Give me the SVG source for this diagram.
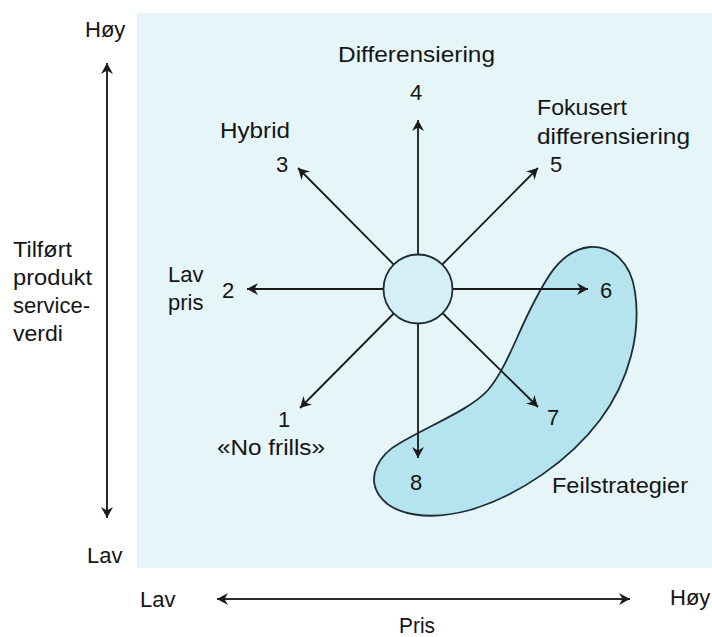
<svg xmlns="http://www.w3.org/2000/svg" width="712" height="637" viewBox="0 0 712 637">
<defs>
<style>
text{font-family:"Liberation Sans","DejaVu Sans",sans-serif;font-size:22px;fill:#151515}
.ln{stroke:#1a1a1a;stroke-width:1.8;fill:none}
.ax{stroke:#2a2a2a;stroke-width:2;fill:none}
</style>
<marker id="ah" viewBox="-12 -7 14 14" markerWidth="14" markerHeight="14" refX="0" refY="0" orient="auto-start-reverse" markerUnits="userSpaceOnUse">
<path d="M0,0 L-11,-6 L-7.5,0 L-11,6 Z" fill="#1a1a1a"/>
</marker>
</defs>
<rect x="0" y="0" width="712" height="637" fill="#ffffff"/>
<rect id="panel" x="137" y="13" width="575" height="555" fill="#e6f5f8"/>

<g id="blob">
<path d="M590,247 C612,246 631,262 635,292 C641,332 630,380 600,420 C570,460 520,495 470,510 C430,521 393,516 379,495 C367,477 378,455 400,443 C430,425 470,410 488,390 C505,370 515,340 530,310 C545,280 560,250 590,247 Z" fill="#b5e3ee" stroke="#1e2d33" stroke-width="1.8"/>
</g>

<g id="connectors">
<line class="ax" x1="107" y1="63" x2="107" y2="518" marker-start="url(#ah)" marker-end="url(#ah)"/>
<line class="ax" x1="217" y1="599" x2="630" y2="599" marker-start="url(#ah)" marker-end="url(#ah)"/>
<line class="ln" x1="418" y1="289" x2="418" y2="120" marker-end="url(#ah)"/>
<line class="ln" x1="418" y1="289" x2="298" y2="168" marker-end="url(#ah)"/>
<line class="ln" x1="418" y1="289" x2="538" y2="168" marker-end="url(#ah)"/>
<line class="ln" x1="418" y1="289" x2="247" y2="289" marker-end="url(#ah)"/>
<line class="ln" x1="418" y1="289" x2="588" y2="289" marker-end="url(#ah)"/>
<line class="ln" x1="418" y1="289" x2="300" y2="408" marker-end="url(#ah)"/>
<line class="ln" x1="418" y1="289" x2="538" y2="407" marker-end="url(#ah)"/>
<line class="ln" x1="418" y1="289" x2="418" y2="458" marker-end="url(#ah)"/>
</g>

<g id="center">
<circle cx="418" cy="289" r="34.5" fill="#d4f0f6" stroke="#1e2d33" stroke-width="1.8"/>
</g>

<g id="axis-y">
<text x="85" y="37">Høy</text>
<text x="87" y="563">Lav</text>
<text x="13" y="257" textLength="59" lengthAdjust="spacingAndGlyphs">Tilført</text>
<text x="13" y="285" textLength="79" lengthAdjust="spacingAndGlyphs">produkt</text>
<text x="13" y="313" textLength="77" lengthAdjust="spacingAndGlyphs">service-</text>
<text x="13" y="341" textLength="50" lengthAdjust="spacingAndGlyphs">verdi</text>
</g>

<g id="axis-x">
<text x="140" y="607">Lav</text>
<text x="670" y="605">Høy</text>
<text x="399" y="633" textLength="36" lengthAdjust="spacingAndGlyphs">Pris</text>
</g>

<g id="s1">
<text x="278" y="427">1</text>
<text x="217" y="455" textLength="108" lengthAdjust="spacingAndGlyphs">«No frills»</text>
</g>
<g id="s2">
<text x="168" y="282">Lav</text>
<text x="168" y="310">pris</text>
<text x="222" y="298">2</text>
</g>
<g id="s3">
<text x="220" y="138" textLength="70" lengthAdjust="spacingAndGlyphs">Hybrid</text>
<text x="276" y="172">3</text>
</g>
<g id="s4">
<text x="338" y="62" textLength="157" lengthAdjust="spacingAndGlyphs">Differensiering</text>
<text x="410" y="100">4</text>
</g>
<g id="s5">
<text x="537" y="115" textLength="90" lengthAdjust="spacingAndGlyphs">Fokusert</text>
<text x="537" y="144" textLength="153" lengthAdjust="spacingAndGlyphs">differensiering</text>
<text x="550" y="172">5</text>
</g>
<g id="s6"><text x="600" y="298">6</text></g>
<g id="s7"><text x="547" y="425">7</text></g>
<g id="s8"><text x="410" y="490">8</text></g>
<g id="fail"><text x="552" y="493" textLength="136" lengthAdjust="spacingAndGlyphs">Feilstrategier</text></g>
</svg>
